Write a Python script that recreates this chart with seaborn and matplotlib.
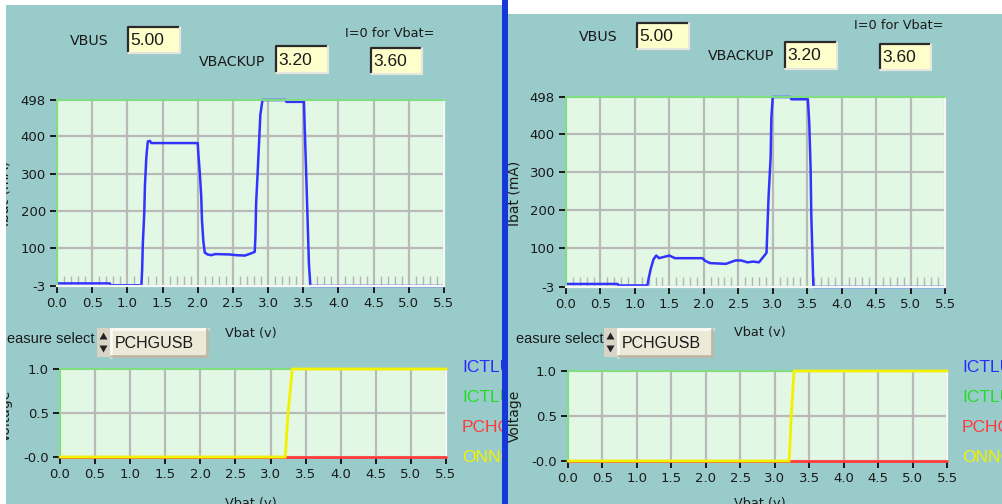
import matplotlib
matplotlib.use("Agg")
import matplotlib.pyplot as plt
from matplotlib.patches import Rectangle, Polygon
from matplotlib.lines import Line2D
import seaborn as sns

# ---------------- data ----------------
# Battery current vs battery voltage, USB charging front panel (left)
vbat_usb = [0.00, 0.75, 0.76, 1.20, 1.21, 1.22, 1.24, 1.25, 1.27, 1.29, 1.32, 1.34,
            2.00, 2.01, 2.03, 2.05, 2.06, 2.08, 2.10, 2.14, 2.19, 2.25, 2.45, 2.55,
            2.67, 2.76, 2.81, 2.82, 2.83, 2.85, 2.87, 2.89, 2.92, 3.25, 3.26, 3.51,
            3.52, 3.54, 3.56, 3.58, 3.60, 5.50]
ibat_usb = [4, 4, -1, -1, 40, 112, 193, 269, 345, 386, 388, 382,
            382, 350, 300, 238, 175, 117, 87, 82, 80, 83, 82, 80,
            79, 85, 89, 130, 220, 296, 377, 458, 498, 498, 493, 493,
            426, 310, 184, 58, -3, -3]

# Battery current vs battery voltage, second run (right)
vbat_run2 = [0.00, 0.75, 0.76, 1.18, 1.20, 1.23, 1.27, 1.31, 1.35, 1.50, 1.58, 1.98,
             2.02, 2.09, 2.32, 2.38, 2.46, 2.54, 2.60, 2.63, 2.72, 2.80, 2.91, 2.92,
             2.94, 2.97, 2.98, 3.00, 3.26, 3.27, 3.51, 3.53, 3.55, 3.56, 3.59, 5.50]
ibat_run2 = [5, 5, 1, 1, 20, 45, 70, 80, 73, 80, 73, 73,
             66, 60, 58, 62, 67, 67, 64, 62, 64, 62, 87, 139,
             236, 341, 443, 498, 498, 492, 492, 430, 307, 184, -3, -3]

# Digital status lines (0/1) vs battery voltage
vbat_onng_l = [0.00, 3.21, 3.25, 3.31, 5.50]
onng_l = [0, 0, 0.5, 1, 1]
vbat_onng_r = [0.00, 3.21, 3.24, 3.28, 5.50]
onng_r = [0, 0, 0.5, 1, 1]
vbat_pchg = [0.00, 5.50]
pchg = [0, 0]

ibat_ticks = [-3, 100, 200, 300, 400, 498]
vbat_ticks = [0.0, 0.5, 1.0, 1.5, 2.0, 2.5, 3.0, 3.5, 4.0, 4.5, 5.0, 5.5]
vbat_minor = [i / 10 for i in range(56)]
volt_ticks = [0.0, 0.5, 1.0]
volt_labels = ["-0.0", "0.5", "1.0"]

signal_names = ["ICTLU", "ICTLU", "PCHG", "ONNG"]
signal_colors = ["#2a2aff", "#22dd22", "#ff3a3a", "#f2f200"]

vbus_value = "5.00"
vbackup_value = "3.20"
ibat_zero_value = "3.60"
measure_value = "PCHGUSB"

# ---------------- styling ----------------
W, H = 1002, 504
TEAL = "#9acbcb"
PLOT_BG = "#e2f8e4"
GRID = "#b9b9b9"
FRAME_GREEN = "#7fe07f"
CURVE_BLUE = "#3333ff"
TXT = "#1a1a1a"

sns.set_style("white")
plt.rcParams["font.family"] = ["DejaVu Sans"]

fig = plt.figure(figsize=(W / 100, H / 100), dpi=100, facecolor="white")


def px_axes(x0, y0, x1, y1, **kw):
    return fig.add_axes([x0 / W, 1 - y1 / H, (x1 - x0) / W, (y1 - y0) / H], **kw)


def panel(x0, y0, x1, y1):
    ax = px_axes(x0, y0, x1, y1)
    ax.set_facecolor(TEAL)
    ax.set_xlim(x0, x1)
    ax.set_ylim(y1, y0)
    ax.set_xticks([])
    ax.set_yticks([])
    for s in ax.spines.values():
        s.set_visible(False)
    return ax


def ptext(ax, x, y, s, **kw):
    kw.setdefault("color", TXT)
    kw.setdefault("va", "center")
    kw.setdefault("ha", "left")
    ax.text(x, y, s, clip_on=True, **kw)


def entry_box(ax, x0, y0, x1, y1, value):
    ax.add_patch(Rectangle((x0, y0), x1 - x0, y1 - y0, facecolor="#ffffcc", edgecolor="none"))
    ax.add_line(Line2D([x0 + 1, x0 + 1, x1], [y1, y0 + 1, y0 + 1], color="#2a2a2a", lw=1.6))
    ax.add_line(Line2D([x0 + 1, x1, x1], [y1, y1, y0 + 1], color="#e6e6e0", lw=1.6))
    ptext(ax, x0 + 3, (y0 + y1) / 2 + 1, value, fontsize=12.5, family="Liberation Sans")


def selector(ax, x0, y0, x1, y1, sx0, value):
    # spinner
    ax.add_patch(Rectangle((sx0, y0), x0 - sx0, y1 - y0, facecolor="#d9d5c6", edgecolor="none"))
    cx = (sx0 + x0) / 2
    ym = (y0 + y1) / 2
    ax.add_patch(Polygon([[cx - 4, ym - 3], [cx + 4, ym - 3], [cx, ym - 10]], closed=True,
                         facecolor="#222222", edgecolor="none"))
    ax.add_patch(Polygon([[cx - 4, ym + 3], [cx + 4, ym + 3], [cx, ym + 10]], closed=True,
                         facecolor="#222222", edgecolor="none"))
    # value box
    ax.add_patch(Rectangle((x0, y0), x1 - x0, y1 - y0, facecolor="#ece9d8", edgecolor="none"))
    ax.add_line(Line2D([x0 + 1, x0 + 1, x1], [y1, y0 + 1, y0 + 1], color="#fbfaf4", lw=2))
    ax.add_line(Line2D([x0 + 1, x1 - 1, x1 - 1], [y1 - 1, y1 - 1, y0 + 1], color="#bdb8a4", lw=2))
    ptext(ax, x0 + 5, ym + 1, value, fontsize=11.5, family="Liberation Sans")


def style_plot(ax, yticks, ylabels, minor=False):
    ax.set_facecolor(PLOT_BG)
    ax.set_xlim(0, 5.5)
    ax.set_xticks(vbat_ticks)
    ax.set_xticklabels([f"{v:.1f}" for v in vbat_ticks])
    ax.set_yticks(yticks)
    ax.set_yticklabels(ylabels)
    ax.grid(True, which="major", color=GRID, lw=1.6)
    ax.set_axisbelow(True)
    for side in ("top", "left"):
        ax.spines[side].set_color(FRAME_GREEN)
        ax.spines[side].set_linewidth(1.4)
    for side in ("bottom", "right"):
        ax.spines[side].set_color("#f6f8f6")
        ax.spines[side].set_linewidth(1.6)
    ax.tick_params(which="major", direction="out", length=5, width=1.4, color="#1a1a1a",
                   labelsize=9.5, labelcolor=TXT, pad=3,
                   bottom=True, left=True, top=False, right=False)
    if minor:
        ax.set_xticks(vbat_minor, minor=True)
        ax.tick_params(which="minor", direction="in", length=7, width=1.0, color="#b4b4b4",
                       bottom=True, top=False)
    ax.set_xlabel("")
    ax.set_ylabel("")


# ---------------- panels ----------------
pl = panel(6, 5, 502, 504)
pr = panel(508, 14, 1002, 504)
fig.patches.append(Rectangle((502 / W, 0), 6 / W, 1, transform=fig.transFigure,
                             facecolor="#1638d8", edgecolor="none", zorder=5))

for ax, dx, dy in ((pl, 0, 0), (pr, 509, -4)):
    ptext(ax, 70 + dx, 41 + dy, "VBUS", fontsize=10.2)
    entry_box(ax, 127 + dx, 26 + dy, 180 + dx, 53 + dy, vbus_value)
    ptext(ax, 199 + dx, 62 + dy - (2 if dx else 0), "VBACKUP", fontsize=10.2)
    entry_box(ax, 275 + dx, 45 + dy, 328 + dx, 73 + dy, vbackup_value)
    ptext(ax, 345 + dx, 33 + dy - (3 if dx else 0), "I=0 for Vbat=", fontsize=9.3)
    entry_box(ax, 370 + dx, 47 + dy, 422 + dx, 74 + dy, ibat_zero_value)

    ptext(ax, 7 + dx, 339, "easure select", fontsize=10.5, family="Liberation Sans")
    selector(ax, 110 + dx - (2 if dx else 0), 328, 208 + dx - (4 if dx else 0), 357,
             97 + dx - (2 if dx else 0), measure_value)

    ptext(ax, 251 + dx, 333, "Vbat (v)", fontsize=9.3, ha="center")
    ptext(ax, 251 + dx, 497, "Vbat (v)", fontsize=9.3, ha="center", va="top")
    ptext(ax, 5 + dx, 193, "Ibat (mA)", fontsize=10, rotation=90, ha="center")
    ptext(ax, 6 + dx, 416, "Voltage", fontsize=10, rotation=90, ha="center")

    lx = 462 + (500 if dx else 0)
    for i, (name, col) in enumerate(zip(signal_names, signal_colors)):
        ptext(ax, lx, 368 + i * 30, name, fontsize=12.5, color=col,
              family="Liberation Sans")

# ---------------- current plots ----------------
ax_tl = px_axes(57, 100, 444, 286)
sns.lineplot(x=vbat_usb, y=ibat_usb, ax=ax_tl, color=CURVE_BLUE, lw=1.8,
             estimator=None, sort=False)
ax_tl.set_ylim(-3, 498)
style_plot(ax_tl, ibat_ticks, [str(t) for t in ibat_ticks], minor=True)

ax_tr = px_axes(566, 97, 945, 287)
sns.lineplot(x=vbat_run2, y=ibat_run2, ax=ax_tr, color=CURVE_BLUE, lw=1.8,
             estimator=None, sort=False)
ax_tr.set_ylim(-3, 498)
style_plot(ax_tr, ibat_ticks, [str(t) for t in ibat_ticks], minor=True)

for ax in (ax_tl, ax_tr):
    for ln in ax.get_lines():
        ln.set_clip_on(False)

# ---------------- status plots ----------------
for rect, vx, vy in (((60, 369, 446, 457), vbat_onng_l, onng_l),
                     ((568, 371, 947, 461), vbat_onng_r, onng_r)):
    ax = px_axes(*rect)
    sns.lineplot(x=vbat_pchg, y=pchg, ax=ax, color=signal_colors[2], lw=2.0,
                 estimator=None, sort=False)
    sns.lineplot(x=vx, y=vy, ax=ax, color=signal_colors[3], lw=2.0,
                 estimator=None, sort=False)
    ax.set_ylim(0, 1)
    style_plot(ax, volt_ticks, volt_labels)
    for ln in ax.get_lines():
        ln.set_clip_on(False)
        ln.set_zorder(3)

fig.savefig("out.png", dpi=100, facecolor="white")
